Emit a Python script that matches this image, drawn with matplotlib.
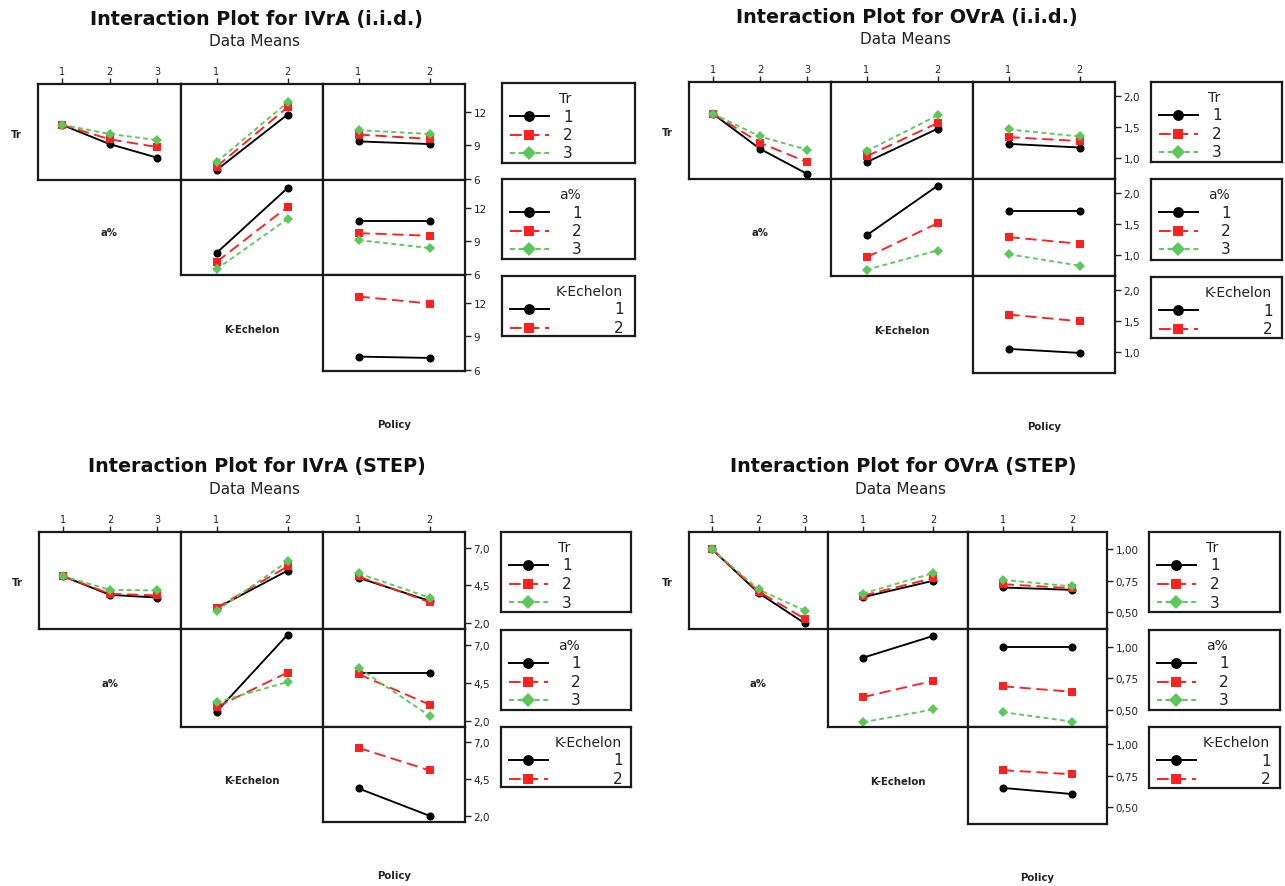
import matplotlib
matplotlib.use("Agg")
import matplotlib.pyplot as plt

# ---------------- data ----------------
levels_tr = ["1", "2", "3"]
levels_a = ["1", "2", "3"]
levels_k = ["1", "2"]
levels_pol = ["1", "2"]

# IVrA (i.i.d.)
ivra_iid_tr_a = [[10.85, 9.12, 7.90], [10.85, 9.55, 8.85], [10.85, 10.03, 9.48]]
ivra_iid_tr_k = [[6.79, 11.76], [7.09, 12.42], [7.50, 12.85]]
ivra_iid_tr_pol = [[9.36, 9.12], [9.97, 9.58], [10.36, 10.03]]
ivra_iid_a_k = [[7.89, 13.77], [7.08, 12.06], [6.42, 10.98]]
ivra_iid_a_pol = [[10.77, 10.77], [9.69, 9.45], [9.06, 8.34]]
ivra_iid_k_pol = [[7.19, 7.07], [12.57, 11.94]]
ivra_iid_yticks = [6, 9, 12]
ivra_iid_yticklabels = ["6", "9", "12"]

# OVrA (i.i.d.)
ovra_iid_tr_a = [[1.72, 1.151, 0.746], [1.72, 1.249, 0.935], [1.72, 1.351, 1.135]]
ovra_iid_tr_k = [[0.935, 1.476], [1.03, 1.568], [1.114, 1.692]]
ovra_iid_tr_pol = [[1.232, 1.173], [1.341, 1.276], [1.465, 1.351]]
ovra_iid_a_k = [[1.32, 2.12], [0.967, 1.516], [0.766, 1.076]]
ovra_iid_a_pol = [[1.707, 1.707], [1.293, 1.185], [1.016, 0.832]]
ovra_iid_k_pol = [[1.054, 0.989], [1.608, 1.50]]
ovra_iid_yticks = [1.0, 1.5, 2.0]
ovra_iid_yticklabels = ["1,0", "1,5", "2,0"]

# IVrA (STEP)
ivra_step_tr_a = [[5.12, 3.88, 3.70], [5.12, 3.95, 3.84], [5.12, 4.21, 4.17]]
ivra_step_tr_k = [[3.00, 5.48], [3.02, 5.76], [2.82, 6.09]]
ivra_step_tr_pol = [[5.01, 3.48], [5.10, 3.39], [5.30, 3.70]]
ivra_step_a_k = [[2.62, 7.66], [2.93, 5.19], [3.24, 4.57]]
ivra_step_a_pol = [[5.19, 5.19], [5.08, 3.09], [5.48, 2.36]]
ivra_step_k_pol = [[3.89, 2.04], [6.63, 5.11]]
ivra_step_yticks = [2.0, 4.5, 7.0]
ivra_step_yticklabels = ["2,0", "4,5", "7,0"]

# OVrA (STEP)
ovra_step_tr_a = [[1.0, 0.654, 0.412], [1.0, 0.665, 0.447], [1.0, 0.681, 0.513]]
ovra_step_tr_k = [[0.620, 0.750], [0.633, 0.771], [0.649, 0.811]]
ovra_step_tr_pol = [[0.697, 0.678], [0.723, 0.691], [0.758, 0.705]]
ovra_step_a_k = [[0.912, 1.083], [0.602, 0.730], [0.404, 0.505]]
ovra_step_a_pol = [[1.0, 1.0], [0.687, 0.644], [0.484, 0.409]]
ovra_step_k_pol = [[0.654, 0.605], [0.795, 0.762]]
ovra_step_yticks = [0.50, 0.75, 1.00]
ovra_step_yticklabels = ["0,50", "0,75", "1,00"]

titles = ["Interaction Plot for IVrA (i.i.d.)", "Interaction Plot for OVrA (i.i.d.)",
          "Interaction Plot for IVrA (STEP)", "Interaction Plot for OVrA (STEP)"]
subtitle = "Data Means"
factor_names = ["Tr", "a%", "K-Echelon", "Policy"]

# ---------------- styling ----------------
W, H = 1285, 887
COLORS = ["#000000", "#FF2020", "#5CC85C"]
MARKERS = ["o", "s", "D"]
MSIZES = [5.8, 5.8, 5.3]
LSTYLES = ["-", (0, (6.0, 3.0)), (0, (2.6, 1.8))]
FRAME = "#1a1a1a"
FONT = "DejaVu Sans"
plt.rcParams["font.family"] = FONT

fig = plt.figure(figsize=(W / 100, H / 100), dpi=100)


def fbox(x0, y0, x1, y1):
    return [x0 / W, 1 - y1 / H, (x1 - x0) / W, (y1 - y0) / H]


def style_frame(ax):
    for s in ax.spines.values():
        s.set_color(FRAME)
        s.set_linewidth(1.6)


def draw_series(ax, series):
    for i, ys in enumerate(series):
        xs = list(range(1, len(ys) + 1))
        ax.plot(xs, ys, color=COLORS[i], linestyle=LSTYLES[i], linewidth=1.35,
                marker=MARKERS[i], markersize=MSIZES[i], markeredgewidth=0,
                dash_capstyle="butt")


def draw_legend(x0, x1, y0, y1, title, labels, title_dx, label_dx):
    ax = fig.add_axes(fbox(x0, y0, x1, y1))
    ax.set_xlim(0, x1 - x0)
    ax.set_ylim(y1 - y0, 0)
    ax.set_xticks([])
    ax.set_yticks([])
    style_frame(ax)
    ax.text(title_dx, 15, title, ha="center", va="center", fontsize=10, color="#222")
    for i, lab in enumerate(labels):
        yy = 33 + 18.5 * i
        ax.plot([8, 47], [yy, yy], color=COLORS[i], linestyle=LSTYLES[i], linewidth=1.4)
        ax.plot([27], [yy], color=COLORS[i], marker=MARKERS[i], markersize=MSIZES[i] + 2,
                markeredgewidth=0, linestyle="none")
        ax.text(label_dx, yy, lab, ha="center", va="center", fontsize=11, color="#222")


def draw_quadrant(cols, rows, leg_x, leg_ys, title, data, yticks, yticklabels, ylim):
    xlims = [(0.5, 3.5), (0.5, 2.5), (0.5, 2.5)]
    xlevels = [levels_a, levels_k, levels_pol]
    for (r, c), series in data.items():
        ax = fig.add_axes(fbox(cols[c], rows[r], cols[c + 1], rows[r + 1]))
        draw_series(ax, series)
        ax.set_xlim(*xlims[c])
        ax.set_ylim(*ylim)
        style_frame(ax)
        if r == 0:
            ax.set_xticks(range(1, len(xlevels[c]) + 1))
            ax.set_xticklabels(xlevels[c])
            ax.tick_params(axis="x", top=True, bottom=False, labeltop=True, labelbottom=False,
                           length=4, width=1.0, pad=1.5, labelsize=7, colors="#222")
        else:
            ax.set_xticks([])
        if c == 2:
            ax.set_yticks(yticks)
            ax.set_yticklabels(yticklabels)
            ax.yaxis.tick_right()
            ax.tick_params(axis="y", right=True, left=False, labelright=True, labelleft=False,
                           length=4, width=1.0, pad=2, labelsize=7.5, colors="#222")
        else:
            ax.set_yticks([])
    cx = (cols[0] + cols[3]) / 2
    top = rows[0]
    fig.text((cx + 5) / W, 1 - (top - 66) / H, title, ha="center", va="center",
             fontsize=13.8, fontweight="bold", color="#111")
    fig.text((cx + 3) / W, 1 - (top - 44) / H, subtitle, ha="center", va="center",
             fontsize=11, color="#222")
    lab_kw = dict(ha="center", va="center", fontsize=7.3, fontweight="bold", color="#222")
    fig.text((cols[0] - 22) / W, 1 - ((rows[0] + rows[1]) / 2 + 2) / H, factor_names[0], **lab_kw)
    fig.text(((cols[0] + cols[1]) / 2) / W, 1 - ((rows[1] + rows[2]) / 2 + 5) / H, factor_names[1], **lab_kw)
    fig.text(((cols[1] + cols[2]) / 2) / W, 1 - ((rows[2] + rows[3]) / 2 + 6) / H, factor_names[2], **lab_kw)
    fig.text(((cols[2] + cols[3]) / 2) / W, 1 - (rows[3] + 53) / H, factor_names[3], **lab_kw)
    lx0, lx1 = leg_x
    draw_legend(lx0, lx1, *leg_ys[0], factor_names[0], levels_tr, 63, 66)
    draw_legend(lx0, lx1, *leg_ys[1], factor_names[1], levels_a, 68, 75)
    draw_legend(lx0, lx1, *leg_ys[2], factor_names[2], levels_k, 87, 117)


quadrants = [
    dict(cols=[38, 181, 323, 465], rows=[85, 181, 276, 372], leg_x=(502, 635),
         leg_ys=[(84, 164), (180, 260), (277, 337)], title=titles[0],
         data={(0, 0): ivra_iid_tr_a, (0, 1): ivra_iid_tr_k, (0, 2): ivra_iid_tr_pol,
               (1, 1): ivra_iid_a_k, (1, 2): ivra_iid_a_pol, (2, 2): ivra_iid_k_pol},
         yticks=ivra_iid_yticks, yticklabels=ivra_iid_yticklabels, ylim=(5.9, 14.5)),
    dict(cols=[689, 831, 973, 1115], rows=[83, 180, 277, 374], leg_x=(1151, 1282),
         leg_ys=[(83, 163), (180, 261), (278, 339)], title=titles[1],
         data={(0, 0): ovra_iid_tr_a, (0, 1): ovra_iid_tr_k, (0, 2): ovra_iid_tr_pol,
               (1, 1): ovra_iid_a_k, (1, 2): ovra_iid_a_pol, (2, 2): ovra_iid_k_pol},
         yticks=ovra_iid_yticks, yticklabels=ovra_iid_yticklabels, ylim=(0.665, 2.23)),
    dict(cols=[39, 181, 323, 465], rows=[533, 630, 728, 823], leg_x=(501, 631),
         leg_ys=[(533, 613), (631, 711), (728, 788)], title=titles[2],
         data={(0, 0): ivra_step_tr_a, (0, 1): ivra_step_tr_k, (0, 2): ivra_step_tr_pol,
               (1, 1): ivra_step_a_k, (1, 2): ivra_step_a_pol, (2, 2): ivra_step_k_pol},
         yticks=ivra_step_yticks, yticklabels=ivra_step_yticklabels, ylim=(1.62, 8.04)),
    dict(cols=[689, 828, 968, 1107], rows=[533, 630, 728, 825], leg_x=(1149, 1280),
         leg_ys=[(533, 613), (631, 711), (728, 789)], title=titles[3],
         data={(0, 0): ovra_step_tr_a, (0, 1): ovra_step_tr_k, (0, 2): ovra_step_tr_pol,
               (1, 1): ovra_step_a_k, (1, 2): ovra_step_a_pol, (2, 2): ovra_step_k_pol},
         yticks=ovra_step_yticks, yticklabels=ovra_step_yticklabels, ylim=(0.367, 1.138)),
]

for q in quadrants:
    draw_quadrant(**q)

fig.savefig("out.png", dpi=100, facecolor="white")
